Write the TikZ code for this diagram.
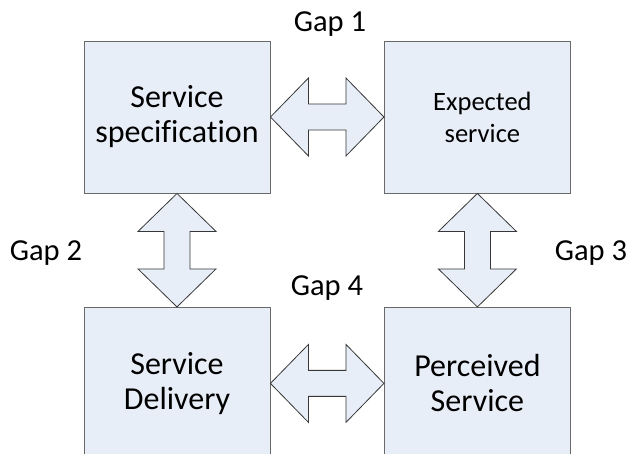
\documentclass[tikz,border=0pt]{standalone}
\usepackage{fontspec}
\setmainfont{Carlito}[Ligatures=NoCommon]
\usepackage{xcolor}
\usepackage{tikz}
\usetikzlibrary{positioning,calc}
\definecolor{boxfill}{RGB}{232, 238, 248}
\definecolor{boxline}{RGB}{105, 105, 105}
\definecolor{arrowline}{RGB}{55, 55, 55}
\tikzset{
    service box/.style={rectangle, draw=boxline, fill=boxfill, line width=0.9pt, minimum width=186pt, minimum height=152pt, align=center, inner sep=0pt, font=\fontsize{32}{35}\selectfont},
    gap label/.style={anchor=base, inner sep=0pt, font=\fontsize{30.5}{34}\selectfont},
    gap arrow/.style={draw=arrowline, fill=boxfill, line width=0.8pt, line join=miter,
        to path={
            -- ($(\tikztostart)!38pt!(\tikztotarget)!39pt!90:(\tikztotarget)$)
            -- ($(\tikztostart)!38pt!(\tikztotarget)!13pt!90:(\tikztotarget)$)
            -- ($(\tikztotarget)!38pt!(\tikztostart)!13pt!-90:(\tikztostart)$)
            -- ($(\tikztotarget)!38pt!(\tikztostart)!39pt!-90:(\tikztostart)$)
            -- (\tikztotarget)
            -- ($(\tikztotarget)!38pt!(\tikztostart)!39pt!90:(\tikztostart)$)
            -- ($(\tikztotarget)!38pt!(\tikztostart)!13pt!90:(\tikztostart)$)
            -- ($(\tikztostart)!38pt!(\tikztotarget)!13pt!-90:(\tikztotarget)$)
            -- ($(\tikztostart)!38pt!(\tikztotarget)!39pt!-90:(\tikztotarget)$)
            -- cycle}}
}
\begin{document}
\begin{tikzpicture}[x=1pt, y=1pt, node distance=113.5pt]
\useasboundingbox (0,0) rectangle (630,454);
% Main boxes
\node[service box] (spec) at (177,337) {Service\\specification};
\node[service box, right=of spec, font=\fontsize{26.5}{32}\selectfont] (expected) {\hspace*{10pt}Expected\\\hspace*{10pt}service};
\node[service box, below=of spec] (delivery) {Service\\Delivery};
\node[service box, right=of delivery] (perceived) {Perceived\\Service};

% Gap arrows
\draw[gap arrow] (spec.east) to (expected.west);
\draw[gap arrow] (spec.south) to (delivery.north);
\draw[gap arrow] (expected.south) to (perceived.north);
\draw[gap arrow] (delivery.east) to (perceived.west);

% Gap labels
\node[gap label] (gap1) at (330,422) {Gap 1};
\node[gap label] (gap2) at (46,193) {Gap 2};
\node[gap label] (gap3) at (591,193) {Gap 3};
\node[gap label] (gap4) at (327,158) {Gap 4};
\end{tikzpicture}
\end{document}
